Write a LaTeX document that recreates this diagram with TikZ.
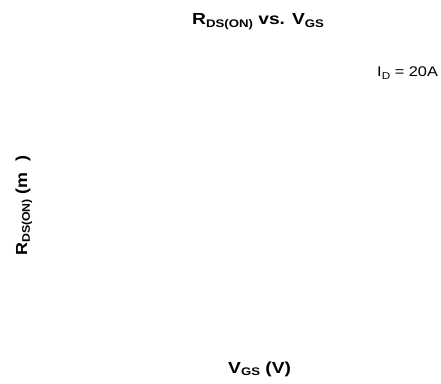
\documentclass[tikz,border=0pt]{standalone}
\usepackage{fontspec}
\setmainfont{Liberation Sans}
\usepackage{graphicx}
\newcommand{\wider}[2][1.2]{\scalebox{#1}[1]{#2}}
\newcommand{\subs}[2]{\raisebox{-0.35ex}{\fontsize{#1}{#1}\selectfont #2}}

\begin{document}
\begin{tikzpicture}[x=1pt,y=1pt,
		boldlabel/.style={inner sep=0pt,anchor=base west,font=\fontsize{16}{18}\selectfont\bfseries},
		normlabel/.style={inner sep=0pt,anchor=base west,font=\fontsize{14}{16}\selectfont}]
		\useasboundingbox (0,0) rectangle (441,383);
		\node[boldlabel] (title) at (192,358) {\wider{R\subs{11}{DS(ON)} vs. V\subs{11}{GS}}};
		\node[normlabel] (cond) at (377,306) {\wider[1.17]{I\subs{10}{D} = 20A}};
		\node[boldlabel,rotate=90] (ylab) at (27,127) {\wider[1.12]{R\subs{11}{DS(ON)} (m\hspace{0.6em})}};
		\node[boldlabel] (xlab) at (228,10) {\wider{V\subs{11}{GS} (V)}};
	\end{tikzpicture}
\end{document}
